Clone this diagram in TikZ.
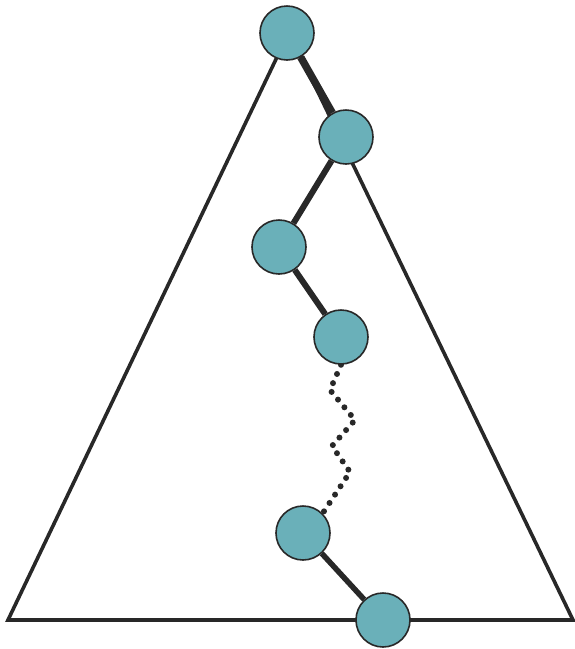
\documentclass[tikz,border=0pt]{standalone}
\usetikzlibrary{backgrounds}
\definecolor{teal1}{RGB}{106,176,185}
\definecolor{ink}{RGB}{40,40,40}
\tikzset{
  bead/.style={circle, draw=ink, line width=1.6pt, fill=teal1, minimum size=54pt, inner sep=0pt},
  bond/.style={draw=ink, line width=6pt},
  dotbond/.style={draw=ink, line width=6pt, line cap=round, dash pattern=on 0pt off 10pt},
  tri/.style={draw=ink, line width=3.6pt, line join=miter}
}
\begin{document}
\begin{tikzpicture}[x=1pt,y=-1pt]
\useasboundingbox (0,0) rectangle (575,649);
\node[bead] (n1) at (287,33) {};
\node[bead] (n2) at (346,137) {};
\node[bead] (n3) at (279,247) {};
\node[bead] (n4) at (341,337) {};
\node[bead] (n5) at (303,533) {};
\node[bead] (n6) at (383,620) {};
\coordinate (w1) at (330,390);
\coordinate (w2) at (355,420);
\coordinate (w3) at (332,446);
\coordinate (w4) at (350,472);
\begin{scope}[on background layer]
  \draw[tri] (289,32) -- (8,620) -- (573,620) -- cycle;
  \draw[bond, line width=7.5pt] (n1) -- (n2);
  \draw[bond] (n2) -- (n3);
  \draw[bond] (n3) -- (n4);
  \draw[bond, line width=5.5pt] (n5) -- (n6);
  \draw[dotbond] (n4.south) -- (w1) -- (w2) -- (w3) -- (w4) -- (n5.north east);
\end{scope}
\end{tikzpicture}
\end{document}
